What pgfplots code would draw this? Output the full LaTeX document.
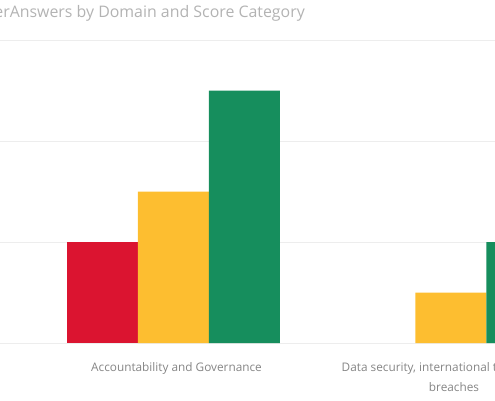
\documentclass[border=0pt]{standalone}
\usepackage{pgfplots}
\pgfplotsset{compat=1.18}
\usepackage{fontspec}
\setmainfont{Open Sans}
\definecolor{cred}{HTML}{DB1430}
\definecolor{cyellow}{HTML}{FDBE30}
\definecolor{cgreen}{HTML}{168E5D}
\definecolor{cgrid}{HTML}{EDEDED}
\definecolor{clabel}{HTML}{858585}
\definecolor{ctitle}{HTML}{B3B3B3}
\begin{document}
\begin{tikzpicture}
\useasboundingbox (0,0) rectangle (495pt,400pt);
\clip (0,0) rectangle (495pt,400pt);
\begin{axis}[
  at={(0pt,57pt)}, anchor=south west,
  width=495pt, height=303pt, scale only axis,
  xmin=-0.6252, xmax=1.1586, ymin=0, ymax=6,
  axis line style={draw=none},
  tick style={draw=none},
  ytick={0,2,4,6}, yticklabels={},
  ymajorgrids, grid style={cgrid, line width=0.8pt},
  xtick={0,1},
  xticklabels={Accountability and Governance, {Data security, international transfers and\\breaches}},
  xticklabel style={font=\fontsize{11.8}{20}\selectfont, text=clabel, align=center, anchor=north, yshift=-12pt, xshift=3pt},
  ybar, bar width=71pt,
]
\addplot[fill=cred, draw=none, bar shift=-71pt] coordinates {(0,2)};
\addplot[fill=cyellow, draw=none, bar shift=0pt] coordinates {(0,3) (1,1)};
\addplot[fill=cgreen, draw=none, bar shift=71pt] coordinates {(0,5) (1,2)};
\end{axis}
\node[anchor=base east, text=ctitle, font=\fontsize{15.9}{18}\selectfont, inner sep=0pt] at (305pt,382pt) {Count of UserAnswers by Domain and Score Category};
\end{tikzpicture}
\end{document}
